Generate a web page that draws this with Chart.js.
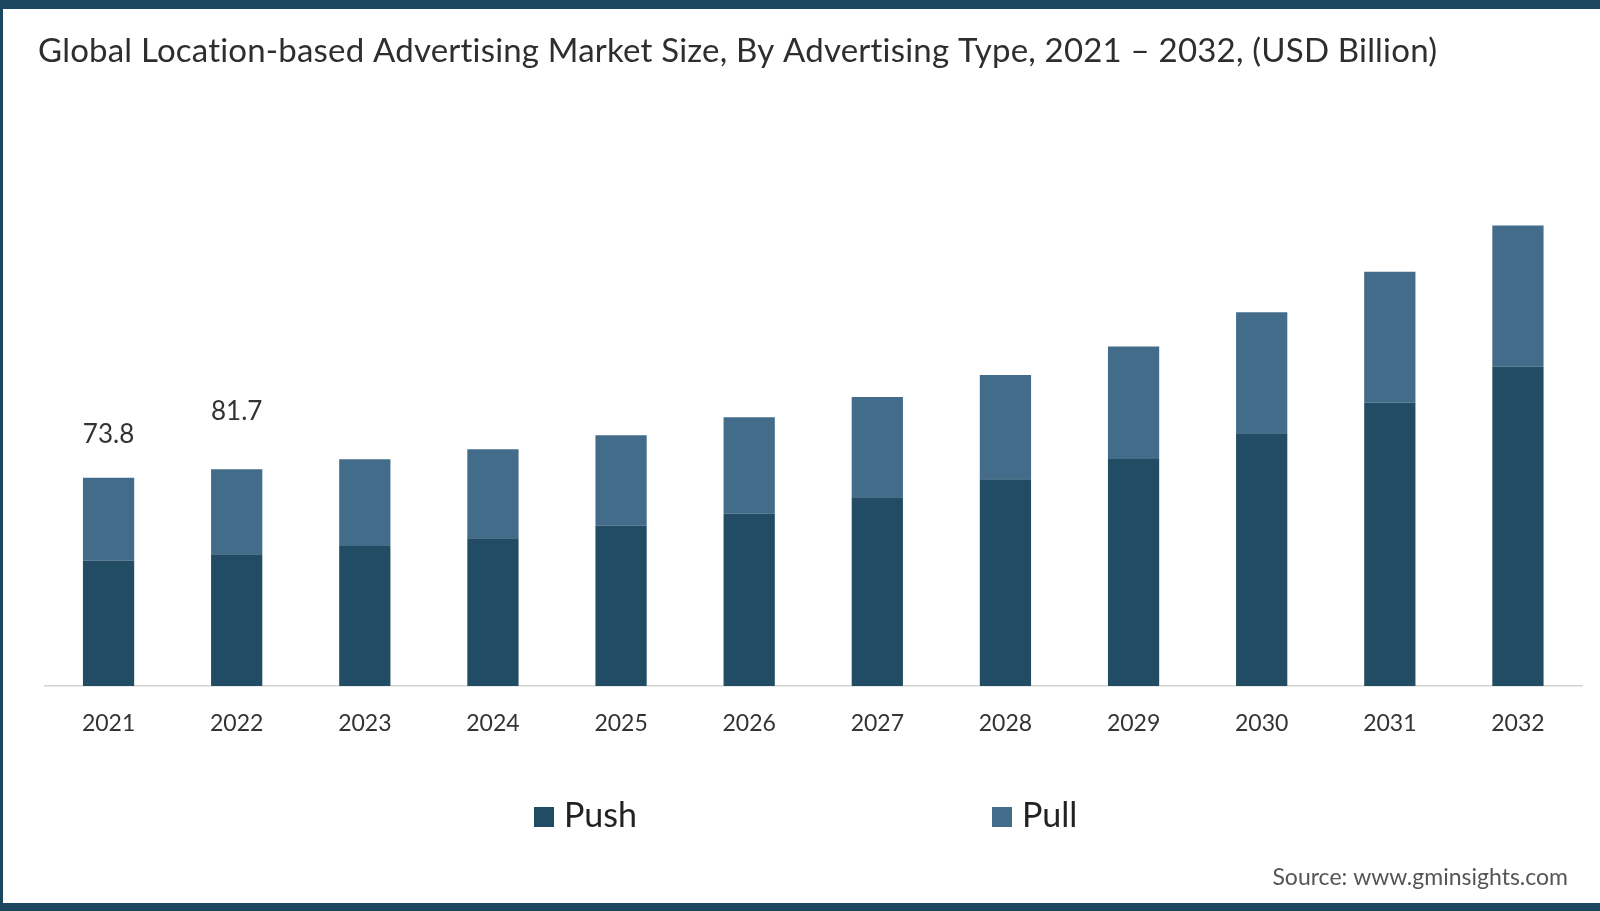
<!DOCTYPE html>
<html><head><meta charset="utf-8">
<script src="https://cdn.jsdelivr.net/npm/chart.js@4.4.0/dist/chart.umd.min.js"></script>
<style>html,body{margin:0;padding:0;background:#fff;overflow:hidden}canvas{display:block}</style>
</head><body>
<canvas id="c" width="1600" height="911"></canvas>
<script>
const years = ['2021','2022','2023','2024','2025','2026','2027','2028','2029','2030','2031','2032'];
const pushValues = [44.5, 46.7, 49.6, 52.3, 56.8, 61.0, 66.9, 73.2, 80.4, 89.5, 100.4, 113.1];
const pullValues = [29.3, 30.1, 30.7, 31.6, 32.0, 34.2, 35.5, 37.0, 39.9, 42.9, 46.3, 50.0];
const totalLabels = ['73.8', '81.7', '', '', '', '', '', '', '', '', '', ''];
const seriesNames = ['Push', 'Pull'];
const seriesColors = ['#214c63', '#426c8a'];
const titleText = 'Global Location-based Advertising Market Size, By Advertising Type, 2021 \u2013 2032, (USD Billion)';
const sourceText = 'Source: www.gminsights.com';

const FONT = 'Lato, "Open Sans", sans-serif';
const BORDER = '#1d4660';
const legendBoxX = [534, 992];

const decor = {
  id: 'decor',
  beforeDraw(chart) {
    const ctx = chart.ctx;
    ctx.save();
    ctx.fillStyle = '#ffffff';
    ctx.fillRect(0, 0, chart.width, chart.height);
    ctx.restore();
  },
  afterDraw(chart) {
    const ctx = chart.ctx;
    const W = chart.width, H = chart.height;
    ctx.save();
    // frame
    ctx.fillStyle = BORDER;
    ctx.fillRect(0, 0, W, 9);
    ctx.fillRect(0, 0, 3, H);
    ctx.fillRect(0, H - 8, W, 8);
    // title
    ctx.font = '33px ' + FONT;
    if ('letterSpacing' in ctx) ctx.letterSpacing = '0.2px';
    ctx.fillStyle = '#2e2e2e';
    ctx.textAlign = 'left';
    ctx.textBaseline = 'alphabetic';
    ctx.fillText(titleText, 38, 62);
    if ('letterSpacing' in ctx) ctx.letterSpacing = '0px';
    // total labels
    const meta = chart.getDatasetMeta(1);
    const yScale = chart.scales.y;
    ctx.font = '26px ' + FONT;
    ctx.fillStyle = '#333333';
    ctx.textAlign = 'center';
    totalLabels.forEach((t, i) => {
      if (!t) return;
      const x = meta.data[i].x;
      const y = yScale.getPixelForValue(parseFloat(t)) - 35;
      ctx.fillText(t, x, y);
    });
    // legend
    ctx.font = '34px ' + FONT;
    ctx.textAlign = 'left';
    chart.data.datasets.forEach((ds, i) => {
      ctx.fillStyle = ds.backgroundColor;
      ctx.fillRect(legendBoxX[i], 807, 20, 20);
      ctx.fillStyle = '#222222';
      ctx.fillText(ds.label, legendBoxX[i] + 30, 827);
    });
    // source
    ctx.font = '23px ' + FONT;
    ctx.fillStyle = '#555555';
    ctx.textAlign = 'right';
    ctx.fillText(sourceText, 1568, 885);
    ctx.restore();
  }
};

Chart.defaults.font.family = FONT;

new Chart(document.getElementById('c'), {
  type: 'bar',
  data: {
    labels: years,
    datasets: [
      { label: seriesNames[0], data: pushValues, backgroundColor: seriesColors[0] },
      { label: seriesNames[1], data: pullValues, backgroundColor: seriesColors[1] }
    ]
  },
  options: {
    responsive: false,
    devicePixelRatio: 1,
    animation: false,
    layout: { padding: { left: 44.5, right: 18, top: 121.4, bottom: 0 } },
    datasets: { bar: { categoryPercentage: 1, barPercentage: 0.4, borderWidth: 0 } },
    plugins: { legend: { display: false }, title: { display: false }, tooltip: { enabled: false } },
    scales: {
      x: {
        stacked: true,
        grid: { display: false, drawTicks: false },
        border: { display: true, color: '#d4d4d4', width: 1.5 },
        ticks: { color: '#333333', font: { size: 23 }, padding: 24 },
        afterFit(scale) { scale.height = 225; }
      },
      y: {
        stacked: true,
        display: false,
        min: 0,
        max: 200
      }
    }
  },
  plugins: [decor]
});
</script>
</body></html>
